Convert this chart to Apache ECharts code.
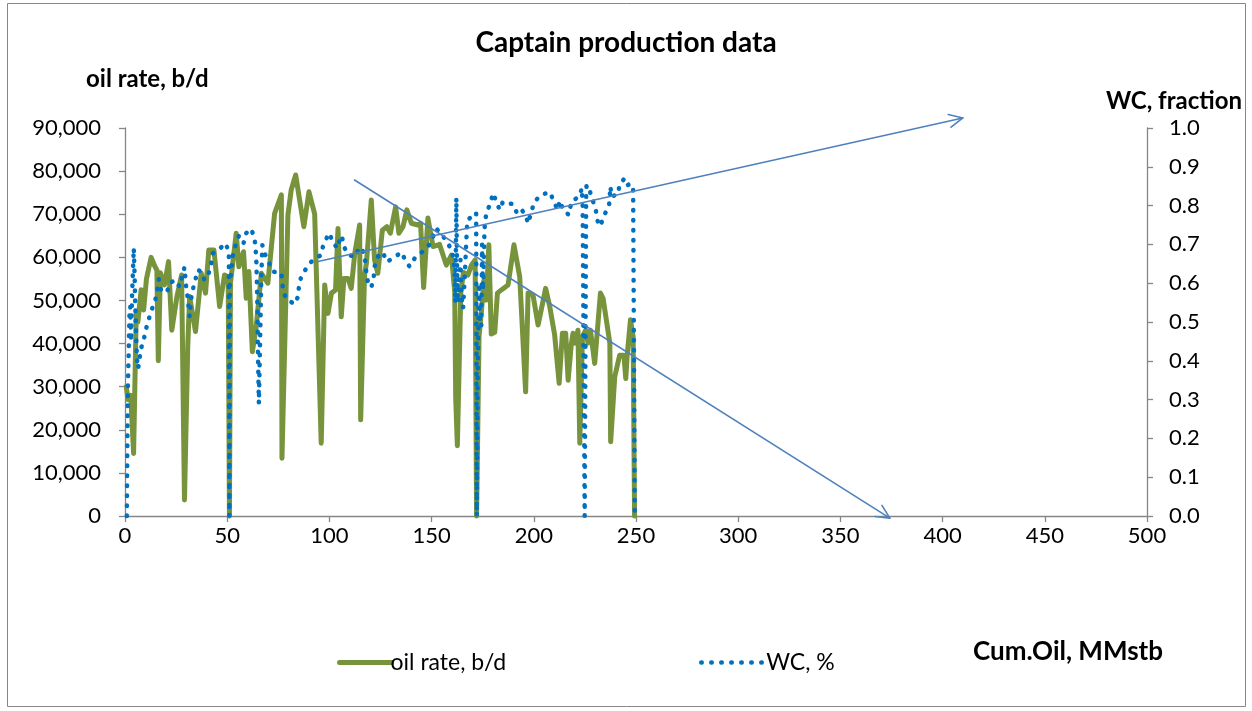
<!DOCTYPE html>
<html>
<head>
<meta charset="utf-8">
<script src="https://cdn.jsdelivr.net/npm/echarts@6/dist/echarts.min.js"></script>
<style>
html,body{margin:0;padding:0;background:#fff;}
#chart{width:1252px;height:711px;}
</style>
</head>
<body>
<div id="chart"></div>
<script>
// ---- data (x = Cum.Oil MMstb) ----
const oilRate = [
[0.6,30000],[1.5,27000],[2.8,28000],[4.2,14500],[5.5,47000],[6.3,45000],[7.9,52500],[9.1,47800],[10.5,55000],[12.8,60000],[14.5,58000],[15.6,57000],[16.3,36000],[17.3,56400],[19.3,53600],[21.3,59000],[22.9,43100],[25.4,50900],[27.7,55900],[29.1,3700],[30.7,39300],[31.6,50900],[34.5,42800],[37.3,56300],[39.4,51700],[41,61700],[43.5,61700],[46.3,48600],[48.7,55900],[50.5,55500],[51.1,0],[51.6,54000],[54.4,65600],[55.7,57800],[58,61300],[59.3,50500],[60.6,56700],[62.3,38100],[64.2,43900],[66.7,56300],[69.9,54000],[73.2,70200],[76.5,74500],[76.8,13400],[79.7,69800],[81.3,75600],[83.5,79100],[87.5,67100],[90,75200],[92.8,70000],[96,16900],[97.7,53600],[99.3,47000],[101,51700],[103,52400],[104.2,66700],[105.8,46200],[107.1,55100],[109.1,55100],[110.7,52800],[112.4,60900],[114.8,67500],[115.3,22300],[117.2,55900],[118.1,58600],[120.5,73300],[122.1,59400],[123.7,56300],[125.9,66300],[128.1,67100],[129.8,65600],[132.4,71700],[134,65600],[136,67100],[137.9,71000],[140.1,67900],[143.3,67500],[144.6,67900],[146.1,53000],[148.2,69100],[150.7,62500],[153.9,63000],[157.2,58200],[159.7,60500],[161.3,52000],[161.8,27300],[162.6,16300],[164.3,52000],[165.6,56500],[167.8,55900],[169.5,58200],[171.3,59400],[172.0,0],[173.2,41600],[174.3,47000],[175.6,54700],[176.8,50100],[178,62900],[179.2,42200],[180.9,42600],[182.2,51700],[184.3,52500],[187.4,53600],[190.3,62900],[193.1,55500],[196,28800],[197.2,51700],[199.6,51300],[202.1,44300],[205.8,52800],[207.8,48600],[210.2,42000],[212.4,30800],[214,42400],[215.6,42400],[216.8,31500],[218.4,40100],[219.2,42400],[220.2,40100],[221.6,43100],[222.5,16900],[223.8,41600],[225.4,43100],[226.5,40100],[227.7,43100],[229.8,35400],[232.6,51700],[233.9,50500],[237.2,40100],[237.6,17200],[239.6,32300],[242,37300],[244.1,37300],[245,31900],[245.7,37300],[247.3,45500],[248.6,41600],[249.3,0]
];
const waterCut = [
[0.9,0],[1.1,0.15],[1.4,0.33],[1.8,0.42],[2.2,0.52],[2.6,0.54],[3.0,0.45],[3.4,0.56],[3.8,0.62],[4.3,0.69],[4.7,0.62],[5.0,0.55],[5.4,0.47],[5.8,0.41],[6.3,0.38],[6.8,0.39],[7.7,0.43],[9.0,0.45],[10.2,0.48],[11.2,0.50],[13.6,0.54],[15.3,0.565],[16.5,0.61],[17.7,0.58],[20.6,0.577],[21.8,0.60],[24.6,0.608],[26.7,0.591],[29.1,0.641],[29.9,0.591],[30.7,0.561],[31.6,0.514],[32.4,0.561],[33.2,0.584],[34.4,0.608],[35.6,0.634],[37.3,0.63],[38.9,0.608],[41.0,0.626],[42.2,0.651],[43.0,0.677],[45.8,0.686],[49.2,0.703],[50.8,0.681],[51.05,0],[51.3,0.6],[52.8,0.673],[54.1,0.698],[55.7,0.722],[58,0.703],[59.3,0.729],[61.7,0.74],[63.4,0.716],[64.2,0.668],[64.7,0.565],[65,0.436],[65.5,0.29],[66.2,0.479],[66.7,0.617],[67.2,0.698],[68.3,0.677],[70.4,0.653],[72.3,0.63],[76.5,0.626],[77.3,0.582],[78.9,0.559],[83,0.546],[84.6,0.565],[85.1,0.591],[86.2,0.617],[88.4,0.636],[91.1,0.655],[96,0.673],[96.8,0.694],[98.8,0.718],[100.1,0.729],[101.7,0.703],[104.2,0.69],[105,0.716],[106.1,0.722],[107.1,0.694],[109.4,0.673],[112.4,0.668],[114.8,0.693],[117.2,0.677],[117.6,0.651],[118.1,0.626],[118.9,0.601],[120.5,0.589],[121.7,0.617],[122.1,0.643],[123.3,0.664],[124.6,0.677],[126.2,0.679],[128.1,0.655],[131.9,0.667],[135.2,0.68],[137.3,0.658],[139.2,0.643],[141.7,0.664],[145.5,0.681],[148.7,0.698],[150.7,0.72],[152.3,0.741],[155.2,0.724],[158,0.703],[160.1,0.681],[161.3,0.634],[161.6,0.55],[161.9,0.70],[162.1,0.82],[162.4,0.66],[162.8,0.55],[163.5,0.60],[164.1,0.66],[164.6,0.565],[165.4,0.535],[166.2,0.613],[167,0.711],[167.5,0.763],[169.5,0.771],[171.1,0.771],[171.8,0.78],[172.1,0],[172.5,0.35],[173.2,0.60],[173.6,0.50],[174.3,0.488],[174.7,0.70],[175.1,0.582],[175.9,0.741],[176.8,0.784],[178.4,0.80],[180.1,0.832],[181.0,0.836],[181.7,0.81],[183.3,0.789],[184.9,0.81],[186.9,0.806],[189.8,0.804],[191.8,0.78],[193.9,0.79],[196,0.776],[197.2,0.754],[198.8,0.784],[200.1,0.807],[202.5,0.823],[204.8,0.83],[208.1,0.834],[209.7,0.81],[211.8,0.789],[212.7,0.813],[214.3,0.79],[217.1,0.776],[218.4,0.81],[220.9,0.819],[222.5,0.827],[223.5,0.845],[223.9,0.80],[224.9,0],[225.6,0.82],[225.8,0.853],[227.4,0.84],[228.2,0.819],[230.2,0.797],[230.7,0.771],[231.9,0.747],[233.1,0.756],[234.7,0.778],[236.8,0.799],[237.5,0.849],[238,0.823],[238.8,0.819],[241.2,0.83],[242,0.855],[244.1,0.868],[245.3,0.851],[247.4,0.857],[248.6,0.842],[249.4,0]
];
// trend arrows: [x, value] on the given axis
const wcArrow = [[94.4, 0.656], [409.9, 1.026]];
const oilArrow = [[112.3, 77940], [374.2, -500]];
const xTicks = {min: 0, max: 500, interval: 50};
const oilTicks = {min: 0, max: 90000, interval: 10000};
const wcTicks = {min: 0, max: 1, interval: 0.1};

const FONT = 'Lato';
const chart = echarts.init(document.getElementById('chart'), null, {renderer: 'canvas'});
const axisLineStyle = {color: '#868686', width: 1.3};
const tickFont = {fontFamily: FONT, fontSize: 22, color: '#000'};

const option = {
  backgroundColor: '#fff',
  animation: false,
  title: {
    text: 'Captain production data', left: 'center', top: 24,
    textStyle: {fontFamily: FONT, fontWeight: 'bold', fontSize: 28, color: '#000'}
  },
  grid: {left: 125, right: 105, top: 128, bottom: 195, containLabel: false},
  legend: [
    {data: ['oil rate, b/d'], left: 332, top: 646, itemWidth: 52, itemHeight: 14, itemGap: 0,
     itemStyle: {opacity: 0}, lineStyle: {width: 5},
     textStyle: {fontFamily: FONT, fontSize: 23, color: '#000', padding: [0,0,0,-6]}},
    {data: ['WC, %'], left: 694, top: 646, itemWidth: 64, itemHeight: 14,
     itemStyle: {opacity: 0}, lineStyle: {width: 4.5},
     textStyle: {fontFamily: FONT, fontSize: 23, color: '#000', padding: [0,0,0,-4]}}
  ],
  xAxis: {
    type: 'value', min: xTicks.min, max: xTicks.max, interval: xTicks.interval,
    splitLine: {show: false},
    axisLine: {show: true, onZero: false, lineStyle: axisLineStyle},
    axisTick: {show: true, length: 6, lineStyle: axisLineStyle},
    axisLabel: Object.assign({margin: 9}, tickFont)
  },
  yAxis: [
    {
      type: 'value', min: oilTicks.min, max: oilTicks.max, interval: oilTicks.interval,
      position: 'left', splitLine: {show: false},
      axisLine: {show: true, lineStyle: axisLineStyle},
      axisTick: {show: true, length: 6, lineStyle: axisLineStyle},
      axisLabel: Object.assign({margin: 24, formatter: v => v.toLocaleString('en-US')}, tickFont)
    },
    {
      type: 'value', min: wcTicks.min, max: wcTicks.max, interval: wcTicks.interval,
      position: 'right', splitLine: {show: false},
      axisLine: {show: true, lineStyle: axisLineStyle},
      axisTick: {show: true, length: 6, lineStyle: axisLineStyle},
      axisLabel: Object.assign({margin: 22, formatter: v => v.toFixed(1)}, tickFont)
    }
  ],
  series: [
    {
      name: 'oil rate, b/d', type: 'line', yAxisIndex: 0, data: oilRate,
      showSymbol: false, symbol: 'none', clip: false,
      lineStyle: {color: '#77933C', width: 5, join: 'round', cap: 'round'},
      itemStyle: {color: '#77933C'}
    },
    {
      name: 'WC, %', type: 'line', yAxisIndex: 1, data: waterCut,
      showSymbol: false, symbol: 'none', clip: false,
      lineStyle: {color: '#0070C0', width: 4.5, type: [0.5, 9.5], cap: 'round', join: 'round'},
      itemStyle: {color: '#0070C0'}
    }
  ]
};
chart.setOption(option);

function arrowGraphics(pts, axisIdx) {
  const a = chart.convertToPixel({xAxisIndex: 0, yAxisIndex: axisIdx}, pts[0]);
  const b = chart.convertToPixel({xAxisIndex: 0, yAxisIndex: axisIdx}, pts[1]);
  const ang = Math.atan2(b[1] - a[1], b[0] - a[0]);
  const L = 15, spread = 0.45;
  const h1 = [b[0] - L * Math.cos(ang - spread), b[1] - L * Math.sin(ang - spread)];
  const h2 = [b[0] - L * Math.cos(ang + spread), b[1] - L * Math.sin(ang + spread)];
  const st = {stroke: '#4F81BD', lineWidth: 1.6, fill: null, lineCap: 'round', lineJoin: 'round'};
  return [
    {type: 'line', shape: {x1: a[0], y1: a[1], x2: b[0], y2: b[1]}, style: st, z: 100},
    {type: 'polyline', shape: {points: [h1, b, h2]}, style: st, z: 100}
  ];
}

chart.setOption({
  graphic: [
    {type: 'rect', shape: {x: 7.5, y: 3.5, width: 1238, height: 703}, style: {stroke: '#868686', lineWidth: 1, fill: null}, z: -10, silent: true},
    {type: 'text', x: 86, y: 79, style: {text: 'oil rate, b/d', font: 'bold 24px Lato', fill: '#000', textVerticalAlign: 'middle'}},
    {type: 'text', x: 1242, y: 101, style: {text: 'WC, fraction', font: 'bold 24px Lato', fill: '#000', textAlign: 'right', textVerticalAlign: 'middle'}},
    {type: 'text', x: 1163, y: 652, style: {text: 'Cum.Oil, MMstb', font: 'bold 26px Lato', fill: '#000', textAlign: 'right', textVerticalAlign: 'middle'}},
    ...arrowGraphics(wcArrow, 1),
    ...arrowGraphics(oilArrow, 0)
  ]
});
</script>
</body>
</html>
